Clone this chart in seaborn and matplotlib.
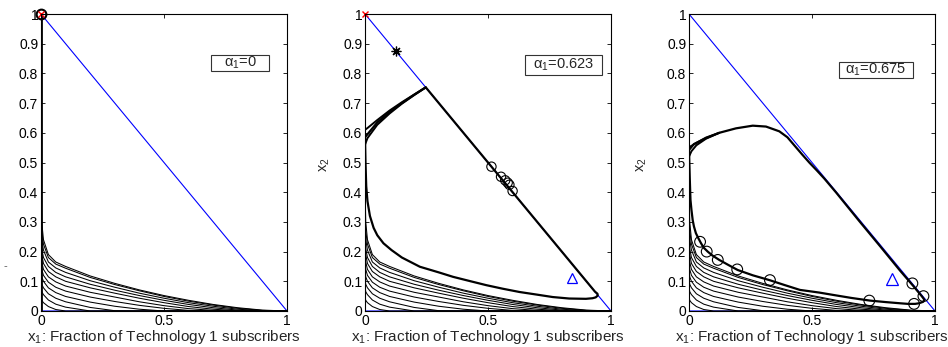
import numpy as np
import pandas as pd
import matplotlib
matplotlib.use("Agg")
import matplotlib.pyplot as plt
from matplotlib.patches import Rectangle
import seaborn as sns

# ---- data -------------------------------------------------------------
alpha_labels = ["0", "0.623", "0.675"]

# family of transient trajectories near the x2 = 0 edge (shared grid in x1)
family_x = [0, 0.003, 0.01, 0.03, 0.06, 0.1, 0.2, 0.3, 0.4, 0.5, 0.6, 0.7, 0.8, 0.9, 1.0]
fam_1 = [0.42, 0.30, 0.24, 0.19, 0.165, 0.150, 0.118, 0.093, 0.071, 0.052, 0.036, 0.022, 0.011, 0.003, 0]
fam_2 = [0.34, 0.27, 0.225, 0.18, 0.158, 0.144, 0.113, 0.089, 0.068, 0.049, 0.033, 0.020, 0.009, 0.002, 0]
fam_3 = [0.29, 0.24, 0.205, 0.165, 0.145, 0.130, 0.102, 0.080, 0.060, 0.043, 0.028, 0.016, 0.006, 0.001, 0]
fam_4 = [0.26, 0.21, 0.18, 0.15, 0.13, 0.115, 0.090, 0.070, 0.052, 0.036, 0.022, 0.011, 0.003, 0, 0]
fam_5 = [0.23, 0.19, 0.16, 0.133, 0.115, 0.100, 0.078, 0.060, 0.043, 0.028, 0.015, 0.006, 0.001, 0, 0]
fam_6 = [0.20, 0.165, 0.14, 0.115, 0.098, 0.084, 0.063, 0.047, 0.031, 0.018, 0.008, 0.002, 0, 0, 0]
fam_7 = [0.17, 0.14, 0.12, 0.097, 0.080, 0.067, 0.047, 0.032, 0.019, 0.009, 0.002, 0, 0, 0, 0]
fam_8 = [0.14, 0.115, 0.10, 0.078, 0.062, 0.049, 0.030, 0.016, 0.006, 0, 0, 0, 0, 0, 0]
fam_9 = [0.11, 0.09, 0.078, 0.058, 0.043, 0.031, 0.012, 0.001, 0, 0, 0, 0, 0, 0, 0]
fam_10 = [0.08, 0.065, 0.055, 0.037, 0.023, 0.013, 0, 0, 0, 0, 0, 0, 0, 0, 0]
fam_11 = [0.045, 0.036, 0.028, 0.015, 0.005, 0, 0, 0, 0, 0, 0, 0, 0, 0, 0]
family_y = [fam_1, fam_2, fam_3, fam_4, fam_5, fam_6, fam_7, fam_8, fam_9, fam_10, fam_11]

# alpha1 = 0: trajectory along x1 = 0 up to the vertex (0, 1)
p1_edge_x = [0, 0]
p1_edge_y = [0, 1]

# alpha1 = 0.623: limit cycle with a segment along x1 + x2 = 1
p2_loop_x = [0.0, 0.05, 0.1, 0.15, 0.2, 0.247, 0.40, 0.55, 0.70, 0.85, 0.935, 0.945, 0.946,
             0.938, 0.925, 0.898, 0.83, 0.763, 0.70, 0.628, 0.56, 0.493, 0.43, 0.358, 0.30,
             0.223, 0.15, 0.108, 0.075, 0.05, 0.035, 0.02, 0.01, 0.005, 0.002, 0.0]
p2_loop_y = [0.585, 0.635, 0.67, 0.70, 0.728, 0.753, 0.60, 0.45, 0.30, 0.15, 0.065, 0.058, 0.052,
             0.046, 0.043, 0.041, 0.042, 0.047, 0.055, 0.064, 0.075, 0.087, 0.10, 0.115, 0.13,
             0.149, 0.18, 0.205, 0.228, 0.255, 0.28, 0.32, 0.37, 0.42, 0.50, 0.585]
p2_strand_x = [0, 0.01, 0.05, 0.1, 0.15, 0.2, 0.247]
p2_strand_lo = [0.56, 0.582, 0.627, 0.665, 0.698, 0.727, 0.753]
p2_strand_hi = [0.61, 0.616, 0.643, 0.675, 0.703, 0.729, 0.753]
p2_circles_x = [0.514, 0.553, 0.57, 0.58, 0.587, 0.6]
p2_circles_y = [0.486, 0.452, 0.44, 0.432, 0.425, 0.404]
p2_star = (0.125, 0.876)
p2_triangle = (0.843, 0.11)

# alpha1 = 0.675: limit cycle inside the simplex
p3_loop_x = [0.0, 0.02, 0.069, 0.123, 0.191, 0.259, 0.313, 0.367, 0.40, 0.43, 0.46, 0.49,
             0.52, 0.55, 0.598, 0.693, 0.78, 0.858, 0.912, 0.946, 0.957, 0.952, 0.935, 0.919,
             0.89, 0.858, 0.8, 0.736, 0.66, 0.587, 0.53, 0.451, 0.39, 0.327, 0.26, 0.198, 0.16,
             0.123, 0.095, 0.076, 0.06, 0.049, 0.038, 0.028, 0.02, 0.015, 0.01, 0.006, 0.003, 0.0]
p3_loop_y = [0.542, 0.562, 0.582, 0.600, 0.615, 0.624, 0.621, 0.605, 0.585, 0.556, 0.527, 0.499,
             0.473, 0.446, 0.399, 0.302, 0.215, 0.136, 0.084, 0.05, 0.038, 0.031, 0.026, 0.024,
             0.024, 0.026, 0.03, 0.035, 0.044, 0.054, 0.062, 0.071, 0.087, 0.104, 0.12, 0.138,
             0.155, 0.172, 0.187, 0.2, 0.213, 0.228, 0.245, 0.262, 0.285, 0.306, 0.34, 0.374,
             0.45, 0.542]
p3_strand_x = [0, 0.01, 0.03, 0.069, 0.123]
p3_strand_lo = [0.52, 0.538, 0.558, 0.58, 0.6]
p3_strand_hi = [0.552, 0.556, 0.566, 0.584, 0.6]
p3_circles_x = [0.045, 0.072, 0.117, 0.196, 0.329, 0.733, 0.908, 0.915, 0.953]
p3_circles_y = [0.233, 0.2, 0.172, 0.14, 0.104, 0.035, 0.093, 0.024, 0.05]
p3_triangle = (0.826, 0.107)

# simplex boundary
simplex_x = [0, 0, 1, 0]
simplex_y = [1, 0, 0, 1]

y_ticks = [0, 0.1, 0.2, 0.3, 0.4, 0.5, 0.6, 0.7, 0.8, 0.9, 1]
y_ticklabels = ["0", "0.1", "0.2", "0.3", "0.4", "0.5", "0.6", "0.7", "0.8", "0.9", "1"]
x_ticks = [0, 0.5, 1]
x_ticklabels = ["0", "0.5", "1"]

# ---- style ------------------------------------------------------------
sns.set_style("ticks")
plt.rcParams["font.family"] = ["Liberation Sans", "DejaVu Sans"]
plt.rcParams["mathtext.fontset"] = "custom"
plt.rcParams["mathtext.rm"] = "Liberation Sans"
plt.rcParams["mathtext.it"] = "Liberation Sans"
plt.rcParams["mathtext.bf"] = "Liberation Sans"

fig = plt.figure(figsize=(9.48, 3.47), dpi=100)
W, H = 948, 347
lefts = [41, 365, 689]
axes = []
for lx in lefts:
    ax = fig.add_axes([lx / W, (H - 311) / H, 246 / W, 297 / H])
    axes.append(ax)

fam_frame = pd.DataFrame(
    [(family_x[j], ys[j], i) for i, ys in enumerate(family_y) for j in range(len(family_x))],
    columns=["x1", "x2", "traj"],
)


def lines(ax, xs, ys, color, lw):
    df = pd.DataFrame({"x1": xs, "x2": ys, "traj": 0})
    sns.lineplot(data=df, x="x1", y="x2", units="traj", estimator=None, sort=False,
                 color=color, lw=lw, ax=ax, legend=False)


for k, ax in enumerate(axes):
    # simplex edges
    lines(ax, simplex_x, simplex_y, "blue", 0.8)
    # transient family
    sns.lineplot(data=fam_frame, x="x1", y="x2", units="traj", estimator=None, sort=False,
                 color="black", lw=0.75, ax=ax, legend=False)

# panel 1
lines(axes[0], p1_edge_x, p1_edge_y, "black", 2.0)
axes[0].plot([0], [1], marker="o", ms=7, mfc="none", mec="black", mew=1.5, clip_on=False)
axes[0].plot([0], [1], marker="x", ms=4, color="red", mew=1.0, clip_on=False)

# panel 2
lines(axes[1], p2_loop_x, p2_loop_y, "black", 1.6)
lines(axes[1], p2_strand_x, p2_strand_lo, "black", 1.4)
lines(axes[1], p2_strand_x, p2_strand_hi, "black", 1.4)
sns.scatterplot(x=p2_circles_x, y=p2_circles_y, ax=axes[1], marker="o", s=45,
                facecolor="none", edgecolor="black", linewidth=0.8, zorder=5)
axes[1].plot([p2_star[0]], [p2_star[1]], marker=(8, 2, 0), ms=7, color="black", mew=0.9)
axes[1].plot([p2_triangle[0]], [p2_triangle[1]], marker="^", ms=7.5, mfc="none", mec="blue", mew=0.9)
axes[1].plot([0], [1], marker="x", ms=5, color="red", mew=1.0, clip_on=False)

# panel 3
lines(axes[2], p3_loop_x, p3_loop_y, "black", 1.6)
lines(axes[2], p3_strand_x, p3_strand_lo, "black", 1.4)
lines(axes[2], p3_strand_x, p3_strand_hi, "black", 1.4)
sns.scatterplot(x=p3_circles_x, y=p3_circles_y, ax=axes[2], marker="o", s=60,
                facecolor="none", edgecolor="black", linewidth=0.8, zorder=5)
axes[2].plot([p3_triangle[0]], [p3_triangle[1]], marker="^", ms=8, mfc="none", mec="blue", mew=0.9)

# annotation boxes: centre (axes fraction), width, height
box_center = [(0.809, 0.835), (0.806, 0.828), (0.76, 0.811)]
box_size = [(0.236, 0.054), (0.312, 0.067), (0.30, 0.056)]
for k, ax in enumerate(axes):
    ax.set_xlim(0, 1)
    ax.set_ylim(0, 1)
    ax.set_xticks(x_ticks)
    ax.set_xticklabels(x_ticklabels)
    ax.set_yticks(y_ticks)
    ax.set_yticklabels(y_ticklabels)
    ax.tick_params(direction="in", length=3, width=0.6, labelsize=10, pad=2,
                   top=True, right=True, colors="black")
    for sp in ax.spines.values():
        sp.set_visible(True)
        sp.set_linewidth(0.8)
        sp.set_color("black")
    ax.set_xlabel("x$_1$: Fraction of Technology 1 subscribers", fontsize=11, labelpad=0)
    ax.set_ylabel("")
    cx, cy = box_center[k]
    bw, bh = box_size[k]
    ax.add_patch(Rectangle((cx - bw / 2, cy - bh / 2), bw, bh, transform=ax.transAxes,
                           fc="white", ec="#333333", lw=0.8, zorder=6))
    ax.text(cx, cy, "α$_1$=" + alpha_labels[k], transform=ax.transAxes,
            ha="center", va="center", fontsize=10.5, zorder=7)

# x2 axis labels; only a sliver of the leftmost one stays inside the figure
fig.text(5 / W, 1 - 266 / H, "-", ha="center", va="center", fontsize=8, color="#555555")
fig.text(325 / W, 1 - 165 / H, "x$_2$", rotation=90, ha="center", va="center", fontsize=10.5)
fig.text(642 / W, 1 - 165 / H, "x$_2$", rotation=90, ha="center", va="center", fontsize=10.5)

fig.savefig("out.png", dpi=100)
